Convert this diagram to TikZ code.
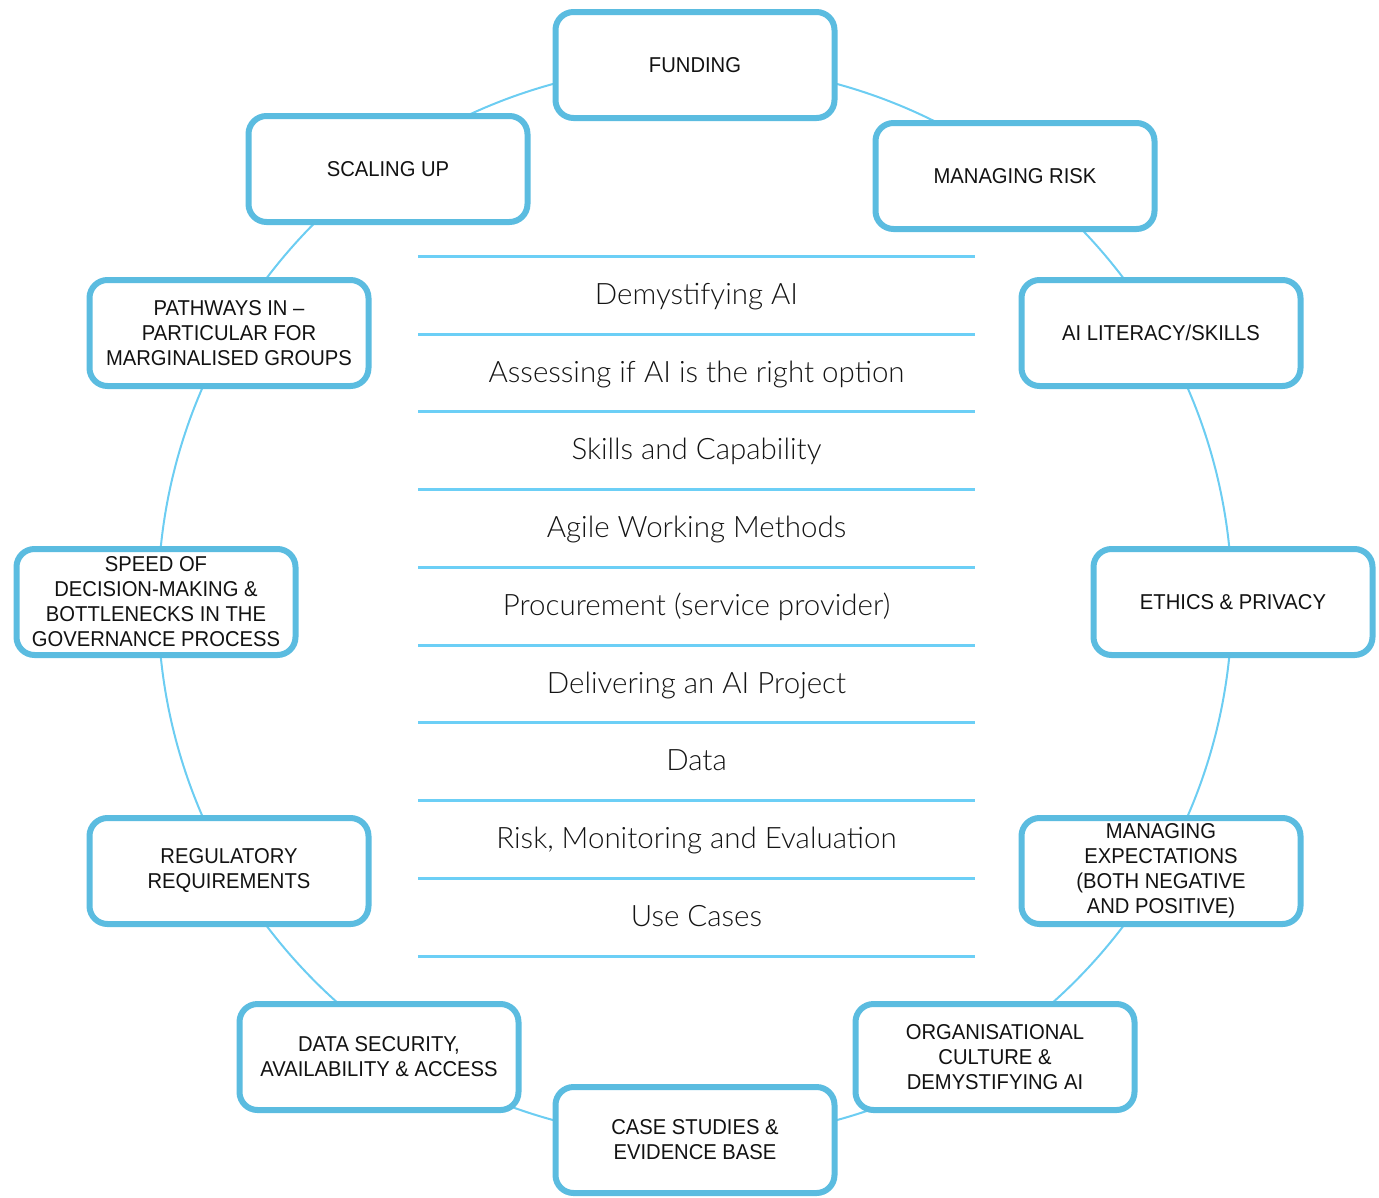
\documentclass[tikz,border=0pt]{standalone}
\usepackage{fontspec}
\usetikzlibrary{calc}
\setmainfont{Liberation Sans}[FakeStretch=0.94]
\newfontfamily\lightfont{Lato}[UprightFont={* Light}]
\definecolor{boxblue}{HTML}{5BBCE0}
\definecolor{ringblue}{HTML}{6CCDF2}
\definecolor{lineblue}{HTML}{6CCFF6}
\begin{document}
\begin{tikzpicture}[x=1pt,y=-1pt,
  topic/.style={draw=boxblue, line width=6pt, rounded corners=18pt, fill=white,
    minimum width=279pt, minimum height=106pt, align=center, inner sep=2pt,
    font=\fontsize{21.5}{25}\selectfont, text=black!93},
  ring/.style={draw=ringblue, line width=2pt},
  rule/.style={draw=lineblue, line width=3pt},
  item/.style={font=\lightfont\fontsize{29.5}{34}\selectfont, text=black!92, inner sep=0pt}]
\useasboundingbox (0,0) rectangle (1379,1197);
\coordinate (c) at (695,602);
\draw[ring] (c) circle[radius=537pt];
% boxes
\node[topic] (funding) at (695,65) {FUNDING};
\node[topic] (scaling) at (388,169) {SCALING UP};
\node[topic] (risk) at (1015,176) {MANAGING RISK};
\node[topic] (pathways) at (229,333) {PATHWAYS IN --\\PARTICULAR FOR\\MARGINALISED GROUPS};
\node[topic] (literacy) at (1161,333) {AI LITERACY/SKILLS};
\node[topic] (speed) at (156,602) {SPEED OF\\DECISION-MAKING \&\\BOTTLENECKS IN THE\\GOVERNANCE PROCESS};
\node[topic] (ethics) at (1233,602) {ETHICS \& PRIVACY};
\node[topic] (regulatory) at (229,871) {REGULATORY\\REQUIREMENTS};
\node[topic] (expect) at (1161,871) {MANAGING\\EXPECTATIONS\\(BOTH NEGATIVE\\AND POSITIVE)};
\node[topic] (security) at (379,1057) {DATA SECURITY,\\AVAILABILITY \& ACCESS};
\node[topic] (culture) at (995,1057) {ORGANISATIONAL\\CULTURE \&\\DEMYSTIFYING AI};
\node[topic] (cases) at (695,1140) {CASE STUDIES \&\\EVIDENCE BASE};
% central list
\foreach \y [count=\i] in {256,334,411,489,567,645,722,800,878,956}{
  \coordinate (l\i) at (418,\y);
  \coordinate (r\i) at (975,\y);
  \draw[rule] (l\i) -- (r\i);
}
\foreach \t [count=\i] in {Demystifying AI,Assessing if AI is the right option,Skills and Capability,Agile Working Methods,Procurement (service provider),Delivering an AI Project,Data,{Risk, Monitoring and Evaluation},Use Cases}{
  \pgfmathtruncatemacro{\j}{\i+1}
  \node[item] (t\i) at ($(l\i)!0.5!(r\j)+(0,3)$) {\strut\t};
}
\end{tikzpicture}
\end{document}
